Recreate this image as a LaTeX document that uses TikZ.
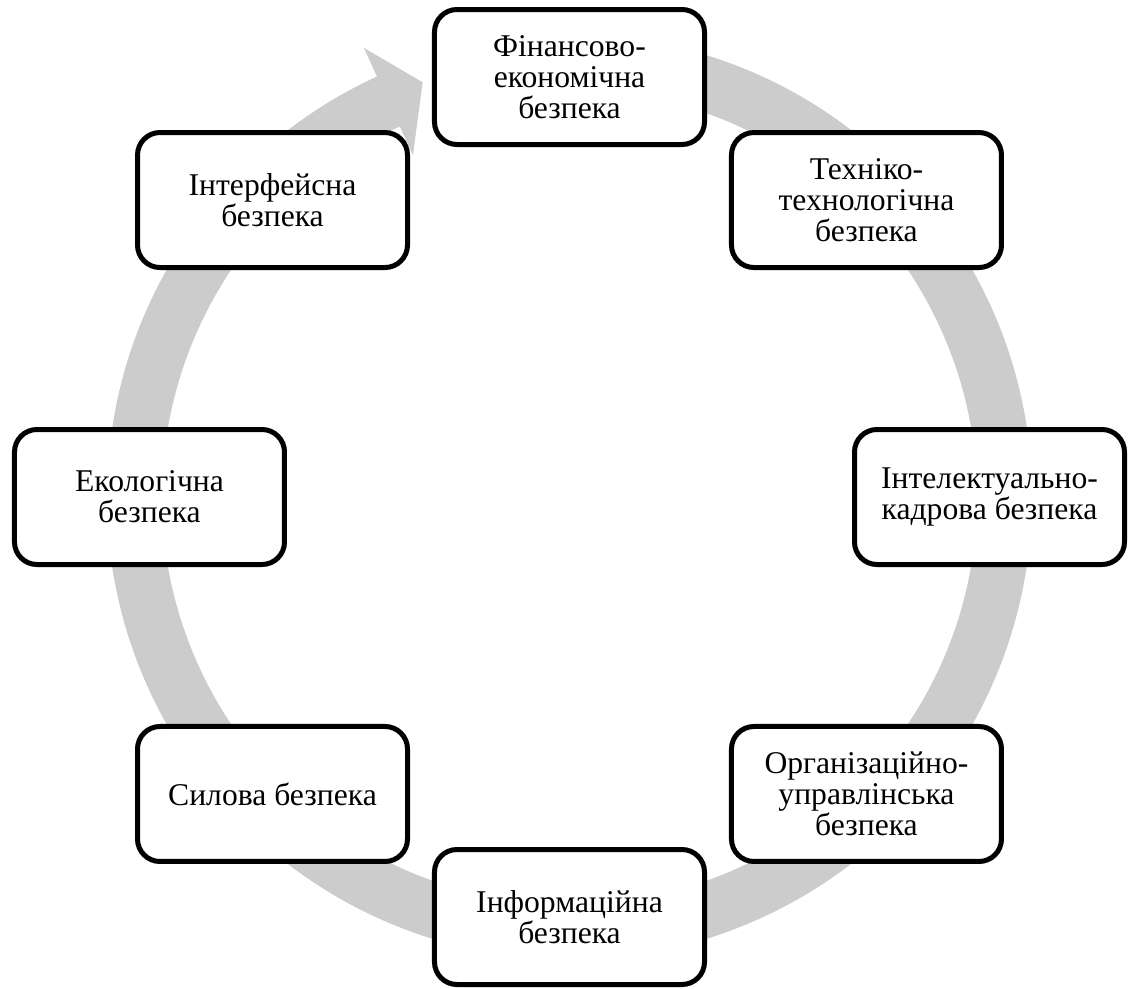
\documentclass[tikz,border=0pt]{standalone}
\usepackage{fontspec}
\setmainfont{Liberation Serif}
\usepackage{tikz}
\usetikzlibrary{positioning,calc}
\definecolor{ringgray}{HTML}{CCCCCC}
\tikzset{
  blk/.style={draw=black, fill=white, line width=0.1cm, rounded corners=0.45cm,
    minimum width=5.4cm, minimum height=2.7cm, inner sep=2pt, align=center,
    font=\fontsize{18}{17.5}\selectfont},
  ring/.style={fill=ringgray, draw=none},
}

\begin{document}
\begin{tikzpicture}
        \useasboundingbox (-11.39,-9.82) rectangle (11.21,9.94);
        % circular arrow behind the blocks
        \fill[ring] (80:9.25) arc[start angle=80, end angle=-245.4, radius=9.25]
          -- (-245.4:9.88) -- (-250.5:8.8) -- (-245.4:7.52) -- (-245.4:8.15)
          arc[start angle=-245.4, end angle=80, radius=8.15] -- cycle;
        \node[blk] (fin)  at (90:8.4)  {Фінансово-\\економічна\\безпека};
        \node[blk] (tech) at (45:8.4)  {Техніко-\\технологічна\\безпека};
        \node[blk] (int)  at (0:8.4)   {Інтелектуально-\\кадрова безпека};
        \node[blk] (org)  at (-45:8.4) {Організаційно-\\управлінська\\безпека};
        \node[blk] (inf)  at (-90:8.4) {Інформаційна\\безпека};
        \node[blk] (sil)  at (-135:8.4) {Силова безпека};
        \node[blk] (eko)  at (180:8.4) {Екологічна\\безпека};
        \node[blk] (ifc)  at (135:8.4) {Інтерфейсна\\безпека};
      \end{tikzpicture}
\end{document}
